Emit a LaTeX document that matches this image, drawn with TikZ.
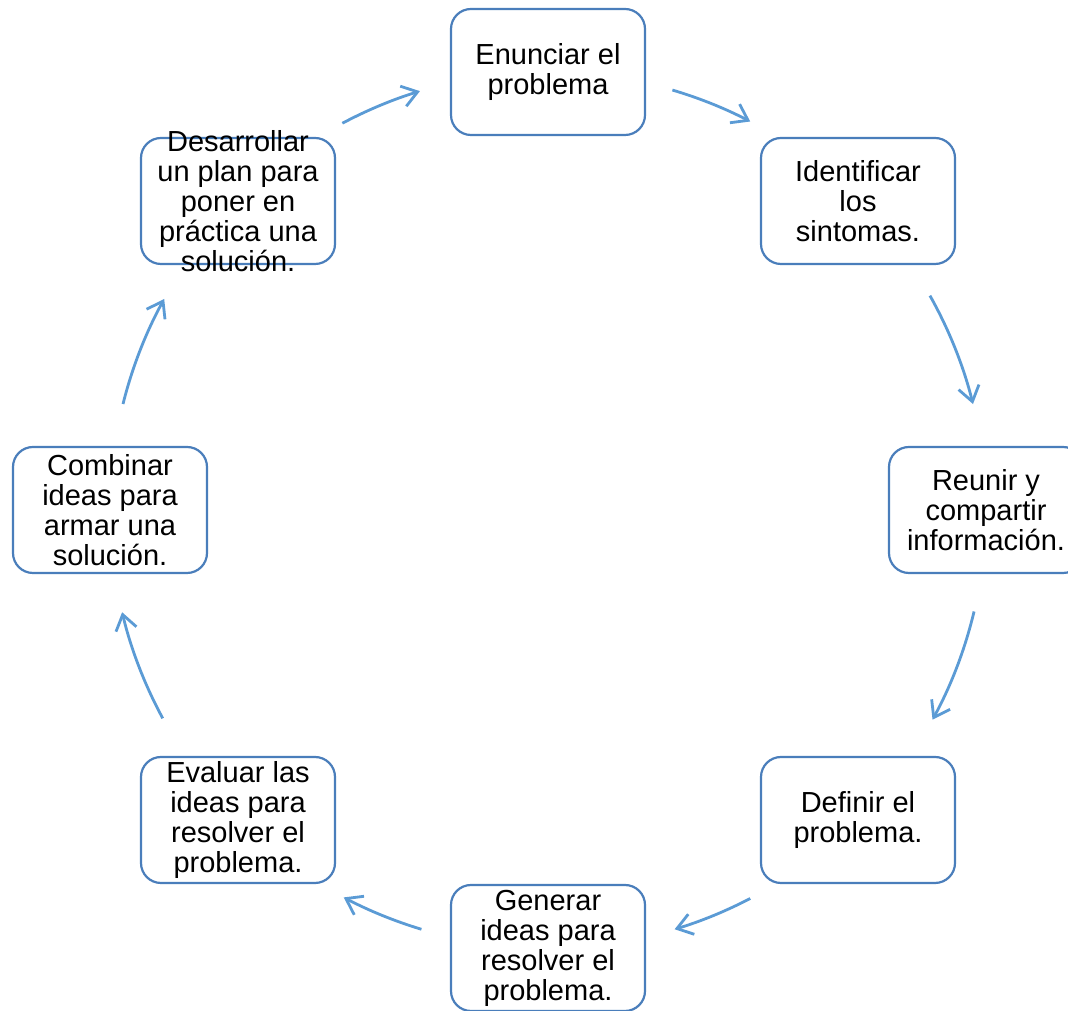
\documentclass[tikz,border=0pt]{standalone}
\usepackage{fontspec}
\setmainfont{Liberation Sans}
\usetikzlibrary{arrows.meta}
\definecolor{boxblue}{RGB}{74,126,187}
\definecolor{arrowblue}{RGB}{91,155,213}
\newcommand{\stagetext}[1]{\parbox[c][100pt][c]{180pt}{\centering #1}}
\begin{document}
\begin{tikzpicture}[x=1pt,y=1pt,
  stagebox/.style={draw=boxblue, line width=2.2pt, rounded corners=20pt,
    minimum width=194pt, minimum height=126pt, inner sep=0pt,
    font=\fontsize{29}{30}\selectfont},
  cyclearrow/.style={draw=arrowblue, line width=2.8pt,
    -{Straight Barb[length=15pt,width=21pt,line width=2.8pt]}}]
\useasboundingbox (0,0) rectangle (1068,1011);
\clip (0,0) rectangle (1068,1011);

\node[stagebox] (e1) at (548,939) {\stagetext{Enunciar el\\problema}};
\node[stagebox] (e2) at (858,810) {\stagetext{Identificar\\los\\sintomas.}};
\node[stagebox] (e3) at (986,501) {\stagetext{Reunir y\\compartir\\información.}};
\node[stagebox] (e4) at (858,191) {\stagetext{Definir el\\problema.}};
\node[stagebox] (e5) at (548,63) {\stagetext{Generar\\ideas para\\resolver el\\problema.}};
\node[stagebox] (e6) at (238,191) {\stagetext{Evaluar las\\ideas para\\resolver el\\problema.}};
\node[stagebox] (e7) at (110,501) {\stagetext{Combinar\\ideas para\\armar una\\solución.}};
\node[stagebox] (e8) at (238,810) {\stagetext{Desarrollar\\un plan para\\poner en\\práctica una\\solución.}};

\coordinate (cc) at (548,501);
\coordinate (a1) at ([shift={(118:438)}]cc);
\coordinate (a2) at ([shift={(73.5:438)}]cc);
\coordinate (a3) at ([shift={(29.3:438)}]cc);
\coordinate (a4) at ([shift={(-13.4:438)}]cc);
\coordinate (a5) at ([shift={(-62.5:438)}]cc);
\coordinate (a6) at ([shift={(-106.8:438)}]cc);
\coordinate (a7) at ([shift={(208.4:438)}]cc);
\coordinate (a8) at ([shift={(166:438)}]cc);

\draw[cyclearrow] (a1) arc[start angle=118, end angle=107, radius=438];
\draw[cyclearrow] (a2) arc[start angle=73.5, end angle=62.5, radius=438];
\draw[cyclearrow] (a3) arc[start angle=29.3, end angle=14, radius=438];
\draw[cyclearrow] (a4) arc[start angle=-13.4, end angle=-28.6, radius=438];
\draw[cyclearrow] (a5) arc[start angle=-62.5, end angle=-73.2, radius=438];
\draw[cyclearrow] (a6) arc[start angle=-106.8, end angle=-117.8, radius=438];
\draw[cyclearrow] (a7) arc[start angle=208.4, end angle=193.5, radius=438];
\draw[cyclearrow] (a8) arc[start angle=166, end angle=151.2, radius=438];
\end{tikzpicture}
\end{document}
